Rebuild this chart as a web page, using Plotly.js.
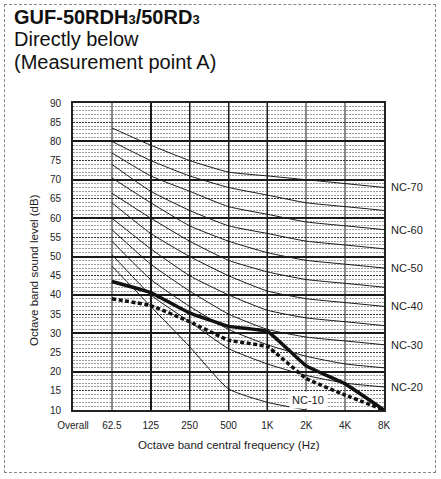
<!DOCTYPE html>
<html><head><meta charset="utf-8">
<script src="https://cdn.plot.ly/plotly-3.0.1.min.js"></script>
<style>
html,body{margin:0;padding:0;background:#fff}
#wrap{position:relative;width:441px;height:479px}
#chart{width:441px;height:479px}
#frame{position:absolute;left:4px;top:4px;width:432px;height:469px;border:1px dashed #888;pointer-events:none;box-sizing:border-box}
</style></head><body>
<div id="wrap"><div id="chart"></div><div id="frame"></div></div>
<script>
// ---- data ----
const tickLabels = ['Overall', '62.5', '125', '250', '500', '1K', '2K', '4K', '8K'];
const bands = ['62.5', '125', '250', '500', '1K', '2K', '4K', '8K'];
const yTicks = [10, 15, 20, 25, 30, 35, 40, 45, 50, 55, 60, 65, 70, 75, 80, 85, 90];

// measured sound levels (dB)
const solidLevels  = [43.5, 40.6, 35.3, 31.8, 30.5, 21.5, 16.8, 10];
const dashedLevels = [39.0, 37.2, 33.0, 28.2, 26.5, 18.2, 13.9, 10];

// NC reference curves (dB)
const nc70 = [83.5, 79, 75, 72, 71, 70, 69, 68];
const nc65 = [80, 75, 71, 68, 66, 64, 63, 62];
const nc60 = [77, 71, 67, 63, 61, 59, 58, 57];
const nc55 = [74, 67, 62, 58, 56, 54, 53, 52];
const nc50 = [70.5, 64, 58, 54, 51, 49, 48, 47];
const nc45 = [66.5, 60, 54, 49, 46, 44, 43, 42];
const nc40 = [64, 56, 50, 45, 41, 39, 38, 37];
const nc35 = [60, 52, 45, 40, 36, 34, 33, 32];
const nc30 = [57, 48, 41, 35, 31, 29, 28, 27];
const nc25 = [54, 44, 37, 31, 27, 24, 22, 21];
const nc20 = [50.5, 40, 33, 26, 22, 19, 17, 16];
const nc10 = [47.5, 37, 26.5, 15.5, 12, 10];

const ncCurves = [nc70, nc65, nc60, nc55, nc50, nc45, nc40, nc35, nc30, nc25, nc20, nc10];
const ncRightLabels = ['NC-70', 'NC-60', 'NC-50', 'NC-40', 'NC-30', 'NC-20'];
const ncRightLevels = [nc70[7], nc60[7], nc50[7], nc40[7], nc30[7], nc20[7]];
const ncInnerLabel = 'NC-10';

// ---- build ----
const xOf = b => tickLabels.indexOf(b);
const bandX = bands.map(xOf);
const FONT = 'Liberation Sans, Arial, Helvetica, sans-serif';

const traces = [];
ncCurves.forEach(c => {
  traces.push({
    x: bandX.slice(0, c.length), y: c, type: 'scatter', mode: 'lines',
    line: {color: '#1a1a1a', width: 1, shape: 'spline', smoothing: 0.5},
    hoverinfo: 'skip', showlegend: false, xaxis: 'x', yaxis: 'y'
  });
});
traces.push({
  x: bandX, y: dashedLevels, type: 'scatter', mode: 'lines',
  line: {color: '#111', width: 3.5, dash: '4px,2.5px', shape: 'spline', smoothing: 0.3},
  showlegend: false, xaxis: 'x2', yaxis: 'y2'
});
traces.push({
  x: bandX, y: solidLevels, type: 'scatter', mode: 'lines',
  line: {color: '#111', width: 3.5, shape: 'spline', smoothing: 0.3},
  showlegend: false, xaxis: 'x2', yaxis: 'y2'
});

const L = 73, R = 384, T = 103, B = 410;
const px2x = p => (p - L) / (R - L);
const py2y = p => (B - p) / (B - T);

const annotations = [];
annotations.push({xref: 'paper', yref: 'paper', x: px2x(12), y: py2y(17), xanchor: 'left', yanchor: 'middle',
  text: '<b>GUF-50RDH<span style="font-size:13px">3</span>/50RD<span style="font-size:13px">3</span></b>', showarrow: false, font: {family: FONT, size: 20, color: '#111'}});
annotations.push({xref: 'paper', yref: 'paper', x: px2x(12), y: py2y(39), xanchor: 'left', yanchor: 'middle',
  text: 'Directly below', showarrow: false, font: {family: FONT, size: 20, color: '#111'}});
annotations.push({xref: 'paper', yref: 'paper', x: px2x(12), y: py2y(62), xanchor: 'left', yanchor: 'middle',
  text: '(Measurement point A)', showarrow: false, font: {family: FONT, size: 20, color: '#111'}});
annotations.push({xref: 'paper', yref: 'paper', x: px2x(34), y: py2y(270), xanchor: 'center', yanchor: 'middle',
  text: 'Octave band sound level (dB)', textangle: -90, showarrow: false, font: {family: FONT, size: 11.5, color: '#222'}});
annotations.push({xref: 'paper', yref: 'paper', x: px2x(228.5), y: py2y(445), xanchor: 'center', yanchor: 'middle',
  text: 'Octave band central frequency (Hz)', showarrow: false, font: {family: FONT, size: 11.5, color: '#222'}});
ncRightLabels.forEach((t, i) => {
  annotations.push({xref: 'x', yref: 'y', x: xOf('8K'), y: ncRightLevels[i], xanchor: 'left', yanchor: 'middle',
    xshift: 5, text: t, showarrow: false, font: {family: FONT, size: 11, color: '#222'}});
});
annotations.push({xref: 'x', yref: 'y', x: 6.05, y: 12.5, xanchor: 'center', yanchor: 'middle',
  text: ncInnerLabel, showarrow: false, bgcolor: '#fff', borderpad: 2, font: {family: FONT, size: 11, color: '#222'}});

const layout = {
  width: 441, height: 479,
  margin: {l: L, r: 441 - R, t: T, b: 479 - B, pad: 0},
  paper_bgcolor: '#fff', plot_bgcolor: '#fff',
  showlegend: false,
  font: {family: FONT, size: 10, color: '#222'},
  xaxis: {
    range: [0, 8], tickmode: 'array', tickvals: tickLabels.map((_, i) => i), ticktext: tickLabels,
    showgrid: true, gridcolor: '#8a8a8a', gridwidth: 2, zeroline: false,
    showline: true, linecolor: '#222', linewidth: 2, mirror: true, ticks: '',
    ticklabelstandoff: 5,
    tickfont: {family: FONT, size: 10, color: '#222'}, fixedrange: true
  },
  yaxis: {
    range: [10, 90], tickmode: 'array', tickvals: yTicks,
    showgrid: true, gridcolor: '#333', gridwidth: 1, griddash: '2px,1px', zeroline: false,
    showline: true, linecolor: '#222', linewidth: 2, mirror: true, ticks: '',
    ticklabelstandoff: 8,
    minor: {tickmode: 'linear', tick0: 10, dtick: 1, showgrid: true, gridcolor: '#9c9c9c', griddash: '2px,1px', gridwidth: 1, ticks: ''},
    tickfont: {family: FONT, size: 10, color: '#222'}, fixedrange: true
  },
  xaxis2: {
    overlaying: 'x', range: [0, 8], tickmode: 'array', tickvals: [xOf('125'), xOf('250'), xOf('500'), xOf('1K')],
    showticklabels: false, showgrid: true, gridcolor: '#1a1a1a', gridwidth: 1.5, zeroline: false, ticks: '', fixedrange: true
  },
  yaxis2: {
    overlaying: 'y', range: [10, 90], tickmode: 'linear', tick0: 10, dtick: 10,
    showticklabels: false, showgrid: true, gridcolor: '#1a1a1a', gridwidth: 2, zeroline: false, ticks: '', fixedrange: true
  },
  annotations: annotations
};

Plotly.newPlot('chart', traces, layout, {displayModeBar: false, staticPlot: true});
</script>
</body></html>
